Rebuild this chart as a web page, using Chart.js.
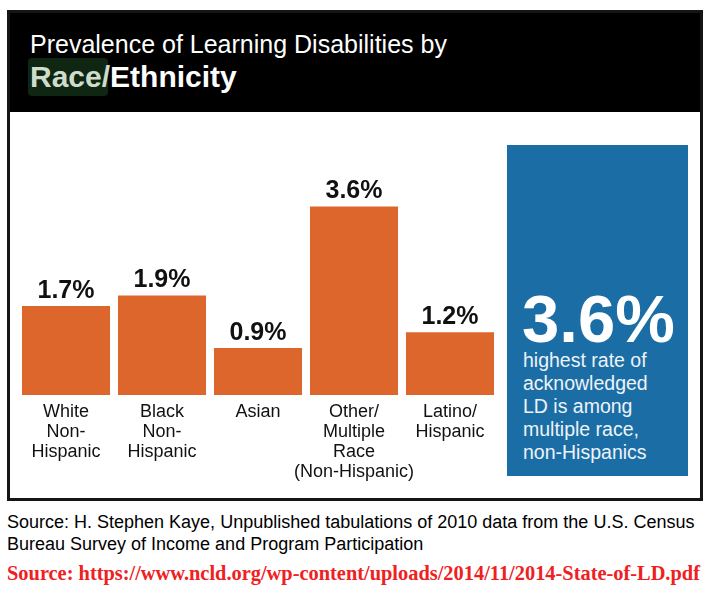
<!DOCTYPE html>
<html lang="en">
<head>
<meta charset="UTF-8" />
<title>Prevalence of Learning Disabilities by Race/Ethnicity</title>
<script src="https://cdn.jsdelivr.net/npm/chart.js"></script>
<style>
  html, body {
    margin: 0;
    padding: 0;
    background: #fff;
  }
  body {
    width: 711px;
    height: 594px;
    position: relative;
    overflow: hidden;
    font-family: 'Liberation Sans', Arial, Helvetica, sans-serif;
  }
  #frame {
    position: absolute;
    left: 7px;
    top: 10px;
    width: 696px;
    height: 491px;
    box-sizing: border-box;
    border: 3px solid #151515;
  }
  #header {
    position: absolute;
    left: 0;
    top: 0;
    right: 0;
    height: 99px;
    background: #000;
  }
  .abs { position: absolute; white-space: nowrap; }
  #title1 {
    left: 30px; top: 32px;
    font-size: 25px; line-height: 1;
    color: #fff;
  }
  #hl {
    left: 28px; top: 58px;
    width: 80px; height: 38px;
    background: #0e2612;
    border-radius: 4px;
  }
  #title2 {
    left: 30px; top: 62px;
    font-size: 30px; line-height: 1; font-weight: bold;
    color: #fff;
  }
  #title2 .race { color: #cfdccb; }
  #chartWrap {
    position: absolute;
    left: 10px;
    top: 118px;
    width: 490px;
    height: 380px;
  }
  #callout {
    position: absolute;
    left: 507px;
    top: 145px;
    width: 181px;
    height: 331px;
    background: #1b6ea5;
  }
  #bigNum {
    left: 522px; top: 285px;
    font-size: 67px; line-height: 1; font-weight: bold;
    color: #fff;
  }
  #calloutText {
    left: 523px; top: 349px;
    font-size: 19.5px; line-height: 23px;
    color: #eef3f8;
  }
  #src1 {
    left: 7px; top: 511px;
    font-size: 18px; line-height: 22px;
    color: #000;
  }
  #src2 {
    left: 7px; top: 563px;
    font-family: 'Liberation Serif', 'Times New Roman', serif;
    font-size: 20.4px; line-height: 1; font-weight: bold;
    color: #f0201e;
  }
</style>
</head>
<body>

<div id="frame"><div id="header"></div></div>
<div class="abs" id="title1">Prevalence of Learning Disabilities by</div>
<div class="abs" id="hl"></div>
<div class="abs" id="title2"><span class="race">Race/</span>Ethnicity</div>

<div id="chartWrap"><canvas id="ldChart" width="490" height="380"></canvas></div>

<div id="callout"></div>
<div class="abs" id="bigNum"></div>
<div class="abs" id="calloutText">highest rate of<br>acknowledged<br>LD is among<br>multiple race,<br>non-Hispanics</div>

<div class="abs" id="src1">Source: H. Stephen Kaye, Unpublished tabulations of 2010 data from the U.S. Census<br>Bureau Survey of Income and Program Participation</div>
<div class="abs" id="src2">Source: https://www.ncld.org/wp-content/uploads/2014/11/2014-State-of-LD.pdf</div>

<script>
// data
var groups = [
  ["White", "Non-", "Hispanic"],
  ["Black", "Non-", "Hispanic"],
  ["Asian"],
  ["Other/", "Multiple", "Race", "(Non-Hispanic)"],
  ["Latino/", "Hispanic"]
];
var rates = [1.7, 1.9, 0.9, 3.6, 1.2];
var yMax = 5;

// big number in the callout = the highest rate
document.getElementById("bigNum").textContent = Math.max.apply(null, rates).toFixed(1) + "%";

// draws the "1.7%" style labels above each bar
var valueLabels = {
  id: "valueLabels",
  afterDatasetsDraw: function(chart) {
    var ctx = chart.ctx;
    var meta = chart.getDatasetMeta(0);
    ctx.save();
    ctx.font = "bold 25px 'Liberation Sans', Arial, sans-serif";
    ctx.fillStyle = "#111";
    ctx.textAlign = "center";
    ctx.textBaseline = "alphabetic";
    meta.data.forEach(function(bar, i) {
      ctx.fillText(rates[i].toFixed(1) + "%", bar.x, bar.y - 8);
    });
    ctx.restore();
  }
};

var ctx = document.getElementById("ldChart").getContext("2d");
window.myChart = new Chart(ctx, {
  type: "bar",
  data: {
    labels: groups,
    datasets: [{
      data: rates,
      backgroundColor: "#dd662c",
      borderWidth: 0,
      categoryPercentage: 1,
      barPercentage: 0.917
    }]
  },
  options: {
    responsive: false,
    animation: false,
    layout: {
      padding: { left: 8, right: 2, top: 15, bottom: 9 }
    },
    plugins: {
      legend: { display: false },
      tooltip: { enabled: false }
    },
    scales: {
      x: {
        grid: { display: false, drawTicks: false },
        border: { display: false },
        ticks: {
          color: "#111",
          padding: 7,
          maxRotation: 0,
          autoSkip: false,
          font: { family: "'Liberation Sans', Arial, sans-serif", size: 18, lineHeight: 1.11 }
        }
      },
      y: {
        display: false,
        min: 0,
        max: yMax
      }
    }
  },
  plugins: [valueLabels]
});
</script>

</body>
</html>
